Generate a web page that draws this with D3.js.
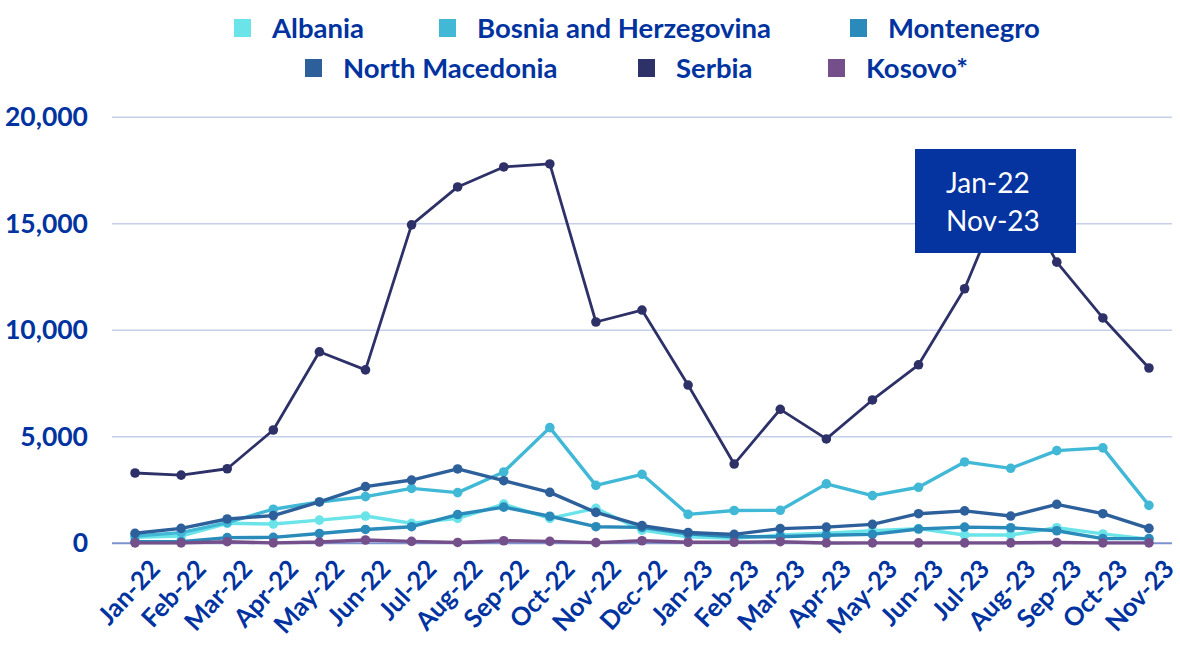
<!DOCTYPE html>
<html>
<head>
<meta charset="utf-8">
<script src="https://cdn.jsdelivr.net/npm/d3@7"></script>
<style>
  body { margin: 0; background: #fff; }
  svg { display: block; font-family: Lato, "Open Sans", sans-serif; }
</style>
</head>
<body>
<svg id="chart" width="1180" height="653"></svg>
<script>
// months on the x axis
const months = ["Jan-22","Feb-22","Mar-22","Apr-22","May-22","Jun-22","Jul-22","Aug-22","Sep-22","Oct-22","Nov-22","Dec-22",
  "Jan-23","Feb-23","Mar-23","Apr-23","May-23","Jun-23","Jul-23","Aug-23","Sep-23","Oct-23","Nov-23"];

// series values
const albania = [280, 340, 940, 905, 1090, 1280, 940, 1170, 1840, 1170, 1640, 620, 310, 230, 390, 470, 590, 690, 390, 390, 730, 440, 190];
const bosnia = [340, 500, 970, 1600, 1940, 2190, 2580, 2380, 3350, 5430, 2720, 3240, 1360, 1540, 1550, 2790, 2240, 2630, 3820, 3520, 4350, 4480, 1780];
const montenegro = [75, 75, 265, 280, 460, 650, 780, 1350, 1700, 1270, 780, 750, 440, 310, 310, 380, 420, 670, 760, 730, 590, 220, 220];
const northMacedonia = [470, 700, 1140, 1300, 1940, 2660, 2970, 3490, 2940, 2390, 1450, 830, 510, 420, 690, 760, 890, 1390, 1520, 1280, 1830, 1390, 700];
const serbia = [3300, 3200, 3500, 5320, 8990, 8140, 14950, 16730, 17670, 17810, 10390, 10950, 7430, 3720, 6290, 4900, 6730, 8380, 11950, 17150, 13200, 10580, 8230];
const kosovo = [20, 20, 75, 20, 60, 155, 90, 40, 120, 90, 30, 120, 50, 50, 75, 15, 20, 20, 20, 20, 40, 20, 20];

const seriesNames = ["Albania", "Bosnia and Herzegovina", "Montenegro", "North Macedonia", "Serbia", "Kosovo*"];
const seriesColors = ["#6be4e9", "#41b9d6", "#2a8bbb", "#2d5f9b", "#2e3168", "#744f8a"];
const seriesValues = [albania, bosnia, montenegro, northMacedonia, serbia, kosovo];

const yTicks = [0, 5000, 10000, 15000, 20000];
const boxLines = ["Jan-22", "Nov-23"];

const svg = d3.select("#chart");
const textBlue = "#0033a0";

const x = d3.scalePoint().domain(months).range([112, 1172]).padding(0.5);
const y = d3.scaleLinear().domain([0, 20000]).range([543.3, 117.3]);

// gridlines
svg.append("g")
  .selectAll("line")
  .data(yTicks)
  .join("line")
  .attr("x1", 112).attr("x2", 1172)
  .attr("y1", d => y(d)).attr("y2", d => y(d))
  .attr("stroke", d => d === 0 ? "#7d93cf" : "#c6cfe9")
  .attr("stroke-width", d => d === 0 ? 2 : 1.5);

// y axis labels
const leftAxis = d3.axisLeft(y).tickValues(yTicks).tickSize(0).tickPadding(0)
  .tickFormat(d3.format(","));
svg.append("g")
  .attr("transform", "translate(88,0)")
  .call(leftAxis)
  .call(g => g.select(".domain").remove())
  .call(g => g.selectAll("text")
    .attr("fill", textBlue)
    .style("font-size", "26.5px")
    .style("font-weight", "bold")
    .style("font-family", "Lato"));

// x axis labels, rotated
const bottomAxis = d3.axisBottom(x).tickSize(0).tickPadding(0);
svg.append("g")
  .attr("transform", "translate(0,555)")
  .call(bottomAxis)
  .call(g => g.select(".domain").remove())
  .call(g => g.selectAll("text")
    .attr("fill", textBlue)
    .attr("text-anchor", "end")
    .attr("dy", "0.7em")
    .attr("transform", "translate(13,3) rotate(-47)")
    .style("font-size", "25.5px")
    .style("font-weight", "bold")
    .style("font-family", "Lato"));

// lines and dots
const line = d3.line().x((d, i) => x(months[i])).y(d => y(d));
seriesValues.forEach((vals, s) => {
  const g = svg.append("g");
  g.append("path")
    .attr("d", line(vals))
    .attr("fill", "none")
    .attr("stroke", seriesColors[s])
    .attr("stroke-width", s === 4 ? 2.8 : 3.4)
    .attr("stroke-linejoin", "round");
  g.selectAll("circle")
    .data(vals)
    .join("circle")
    .attr("cx", (d, i) => x(months[i]))
    .attr("cy", d => y(d))
    .attr("r", 4.8)
    .attr("fill", seriesColors[s]);
});

// legend
const legendPos = [[234, 28], [439, 28], [850, 28], [305, 68], [638, 68], [828, 68]];
const legend = svg.append("g");
seriesNames.forEach((name, i) => {
  const [lx, ly] = legendPos[i];
  legend.append("rect")
    .attr("x", lx).attr("y", ly - 9)
    .attr("width", 17).attr("height", 18)
    .attr("fill", seriesColors[i]);
  legend.append("text")
    .attr("x", lx + 38).attr("y", ly)
    .attr("dy", "0.35em")
    .attr("fill", textBlue)
    .style("font-size", "27.5px")
    .style("font-weight", "bold")
    .text(name);
});

// date range box
const box = svg.append("g");
box.append("rect")
  .attr("x", 915).attr("y", 149)
  .attr("width", 161).attr("height", 104)
  .attr("fill", "#0533a0");
box.selectAll("text")
  .data(boxLines)
  .join("text")
  .attr("x", 946)
  .attr("y", (d, i) => 193 + i * 37.5)
  .attr("fill", "#fff")
  .style("font-size", "28px")
  .text(d => d);
</script>
</body>
</html>
